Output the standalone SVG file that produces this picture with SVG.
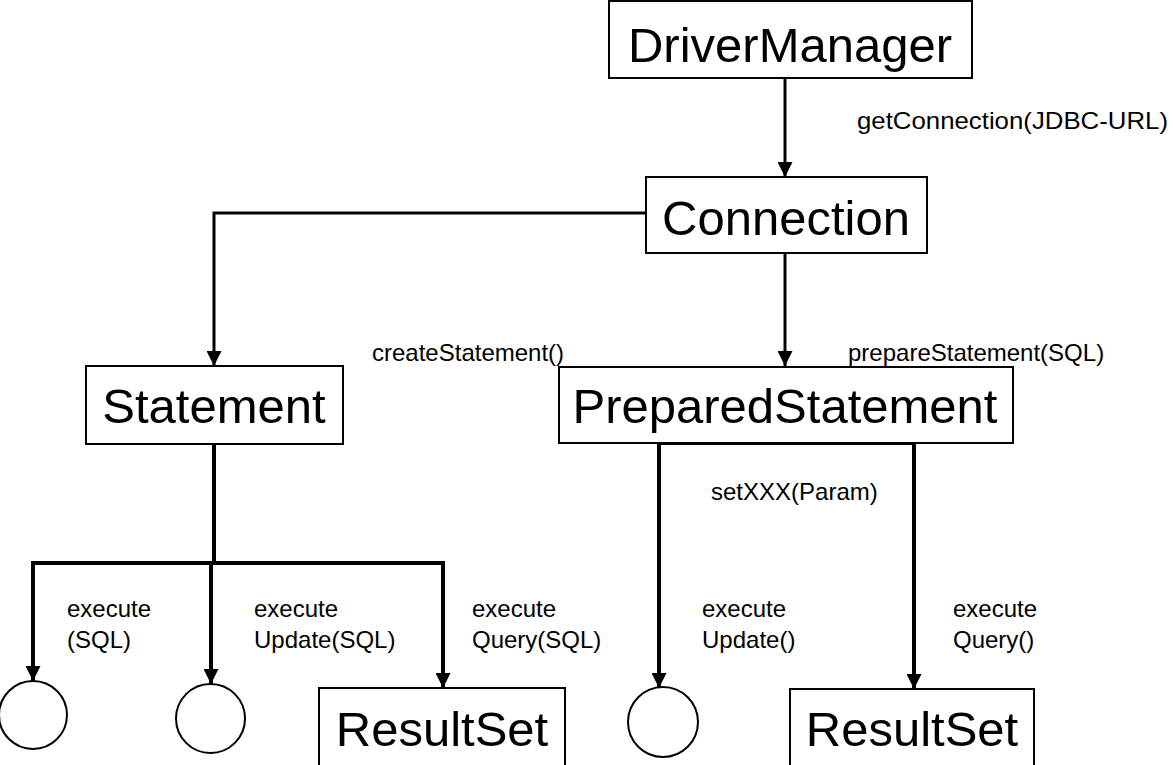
<svg xmlns="http://www.w3.org/2000/svg" width="1173" height="765" viewBox="0 0 1173 765">
<style>
.box{fill:#fff;stroke:#000;stroke-width:2}
.big{font-family:"Liberation Sans",Arial,sans-serif;font-size:49px;text-anchor:middle;fill:#000}
.lbl{font-family:"Liberation Sans",Arial,sans-serif;font-size:24px;fill:#000}
.c3{fill:none;stroke:#000;stroke-width:3}
.c4{fill:none;stroke:#000;stroke-width:4}
.circ{fill:#fff;stroke:#000;stroke-width:2}
</style>
<defs>
<marker id="ah" markerUnits="userSpaceOnUse" markerWidth="15" markerHeight="15" refX="15" refY="7.5" orient="auto">
<path d="M0,0 L15,7.5 L0,15 z" fill="#000"/>
</marker>
</defs>
<rect width="1173" height="765" fill="#fff"/>
<g id="connectors">
<path class="c3" d="M785,78 V177" marker-end="url(#ah)"/>
<path class="c3" d="M646,213 H214 V366" marker-end="url(#ah)"/>
<path class="c3" d="M785,253 V366" marker-end="url(#ah)"/>
<path class="c4" d="M214,444 V563"/>
<path class="c4" d="M33,563 H443"/>
<path class="c4" d="M33,561 V681" marker-end="url(#ah)"/>
<path class="c4" d="M211,561 V684" marker-end="url(#ah)"/>
<path class="c4" d="M443,561 V688" marker-end="url(#ah)"/>
<path class="c4" d="M659,688 V443 H914 V689" marker-end="url(#ah)"/>
<path class="c4" d="M659,445 V688" marker-end="url(#ah)"/>
</g>
<g id="labels">
<text class="lbl" x="857" y="129" textLength="311" lengthAdjust="spacingAndGlyphs">getConnection(JDBC-URL)</text>
<text class="lbl" x="372" y="361">createStatement()</text>
<text class="lbl" x="848" y="361">prepareStatement(SQL)</text>
<text class="lbl" x="711" y="500">setXXX(Param)</text>
<text class="lbl" x="67" y="617">execute</text>
<text class="lbl" x="67" y="648">(SQL)</text>
<text class="lbl" x="254" y="617">execute</text>
<text class="lbl" x="254" y="648">Update(SQL)</text>
<text class="lbl" x="472" y="617">execute</text>
<text class="lbl" x="472" y="648">Query(SQL)</text>
<text class="lbl" x="702" y="617">execute</text>
<text class="lbl" x="702" y="648">Update()</text>
<text class="lbl" x="953" y="617">execute</text>
<text class="lbl" x="953" y="648">Query()</text>
</g>
<g id="driverManager">
<rect class="box" x="609" y="1" width="363" height="77"/>
<text class="big" x="790" y="62">DriverManager</text>
</g>
<g id="connection">
<rect class="box" x="646" y="177" width="281" height="76"/>
<text class="big" x="786" y="235">Connection</text>
</g>
<g id="statement">
<rect class="box" x="86" y="366" width="257" height="78"/>
<text class="big" x="214" y="423">Statement</text>
</g>
<g id="preparedStatement">
<rect class="box" x="559" y="367" width="454" height="76"/>
<text class="big" x="785" y="423">PreparedStatement</text>
</g>
<g id="result1">
<circle class="circ" cx="33" cy="715" r="34"/>
</g>
<g id="result2">
<circle class="circ" cx="210.5" cy="718.5" r="34.5"/>
</g>
<g id="resultSet1">
<rect class="box" x="319" y="688" width="246" height="90"/>
<text class="big" x="442" y="746">ResultSet</text>
</g>
<g id="result3">
<circle class="circ" cx="663" cy="722" r="35"/>
</g>
<g id="resultSet2">
<rect class="box" x="790" y="689" width="244" height="90"/>
<text class="big" x="912" y="746">ResultSet</text>
</g>
</svg>
